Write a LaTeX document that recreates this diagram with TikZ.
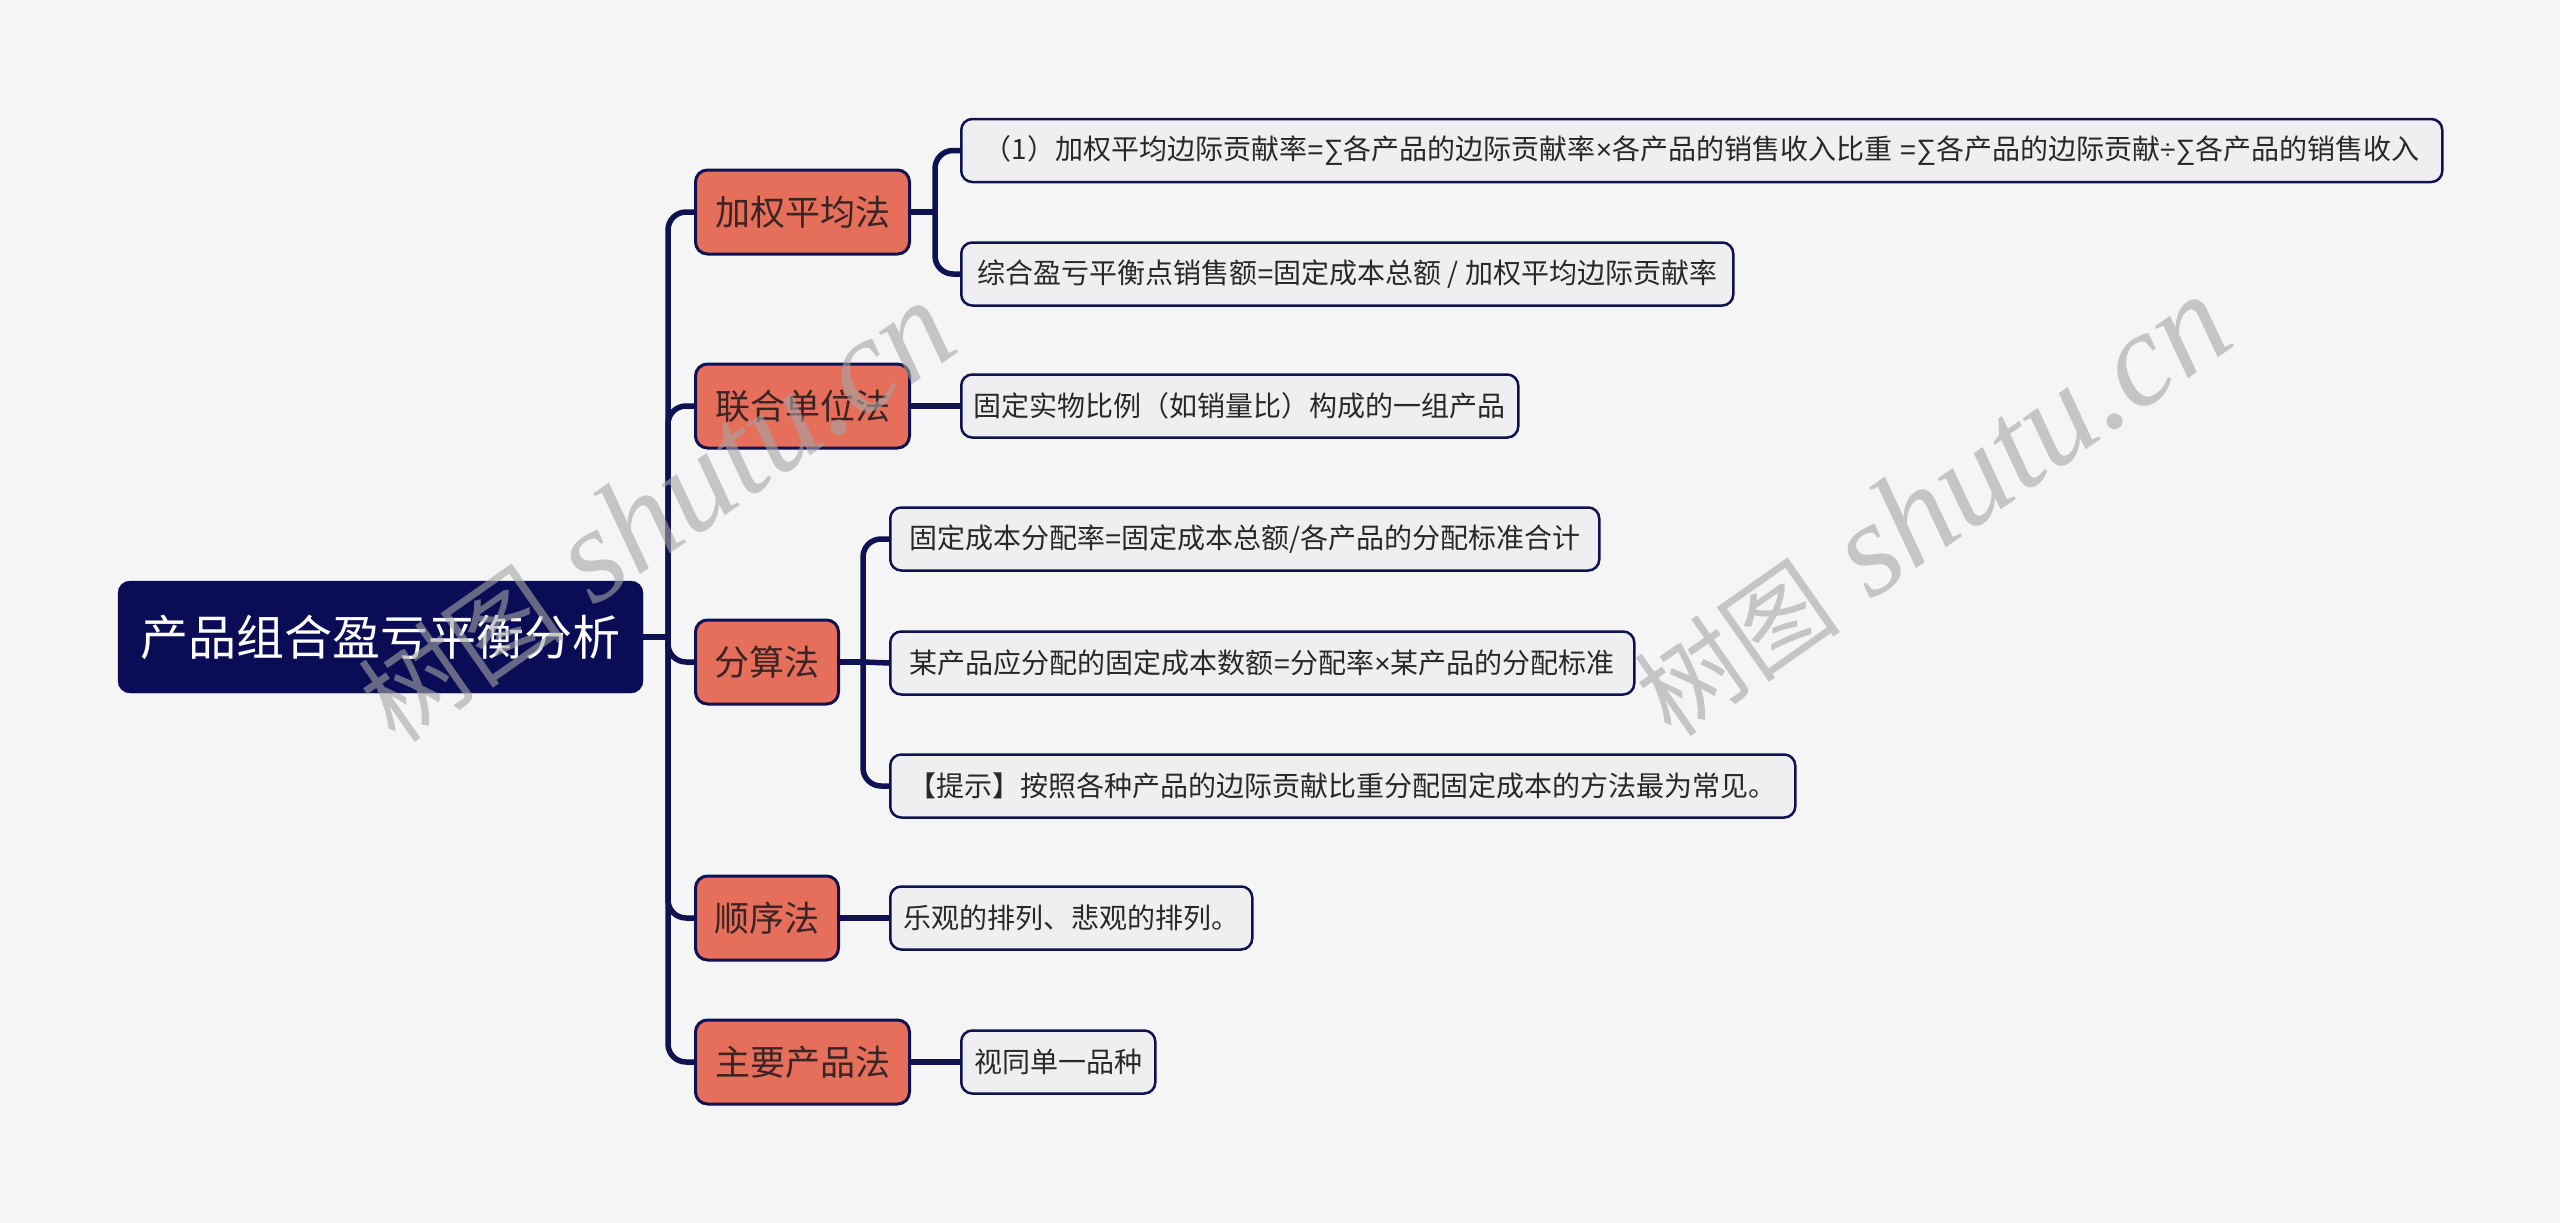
\documentclass[tikz,border=0pt]{standalone}
\usepackage{fontspec}
\setmainfont{Noto Sans CJK SC}
\newfontfamily\wmserif{Liberation Serif}
\newfontfamily\wmcjk{Noto Sans CJK SC}
\newfontfamily\symf{Liberation Sans}
\newcommand{\sy}[1]{{\symf #1}}
\definecolor{bgc}{RGB}{245,245,245}
\definecolor{rootc}{RGB}{10,13,86}
\definecolor{catc}{RGB}{229,111,91}
\definecolor{cattext}{RGB}{58,36,36}
\definecolor{leafc}{RGB}{239,239,241}
\definecolor{leaftext}{RGB}{40,40,40}
\definecolor{linec}{RGB}{14,17,82}
\definecolor{wmc}{RGB}{165,165,165}
\tikzset{
  rootbox/.style={draw=rootc, fill=rootc, rounded corners=12pt, minimum width=525pt,
    minimum height=112pt, inner sep=0pt, text=white, font=\fontsize{48}{52}\selectfont},
  catbox/.style={draw=linec, line width=3pt, fill=catc, rounded corners=12pt,
    minimum height=84pt, inner sep=0pt, text=cattext, font=\fontsize{35}{40}\selectfont, anchor=west},
  leafbox/.style={draw=linec, line width=2.5pt, fill=leafc, rounded corners=11pt,
    minimum height=63pt, inner sep=0pt, text=leaftext, font=\fontsize{28}{32}\selectfont, anchor=west},
  conn/.style={draw=linec, line width=5.5pt, rounded corners=18pt},
  wmark/.style={text=wmc, text opacity=0.6, rotate=35, anchor=base west, inner sep=0pt}
}
\begin{document}
\begin{tikzpicture}[x=1pt,y=-1pt]
\useasboundingbox[fill=bgc] (0,0) rectangle (2560,1223);

% root
\node[rootbox] (root) at (380.5,637) {产品组合盈亏平衡分析};

% categories
\node[catbox, minimum width=214pt] (c1) at (694,212) {加权平均法};
\node[catbox, minimum width=214pt] (c2) at (694,406) {联合单位法};
\node[catbox, minimum width=143pt] (c3) at (694,662) {分算法};
\node[catbox, minimum width=143pt] (c4) at (694,918) {顺序法};
\node[catbox, minimum width=214pt] (c5) at (694,1062) {主要产品法};

% leaves
\node[leafbox, minimum width=1481pt] (l1) at (960,150.5) {（1）加权平均边际贡献率\sy{=∑}各产品的边际贡献率\sy{×}各产品的销售收入比重\sy{ =∑}各产品的边际贡献\sy{÷∑}各产品的销售收入};
\node[leafbox, minimum width=772pt] (l2) at (960,274) {综合盈亏平衡点销售额\sy{=}固定成本总额 / 加权平均边际贡献率};
\node[leafbox, minimum width=557pt] (l3) at (960,406) {固定实物比例（如销量比）构成的一组产品};
\node[leafbox, minimum width=709pt] (l4) at (889,539) {固定成本分配率\sy{=}固定成本总额/各产品的分配标准合计};
\node[leafbox, minimum width=744pt] (l5) at (889,663) {某产品应分配的固定成本数额\sy{=}分配率\sy{×}某产品的分配标准};
\node[leafbox, minimum width=905pt] (l6) at (889,786) {【提示】按照各种产品的边际贡献比重分配固定成本的方法最为常见。};
\node[leafbox, minimum width=362pt] (l7) at (889,918) {乐观的排列、悲观的排列。};
\node[leafbox, minimum width=194pt] (l8) at (960,1062) {视同单一品种};

% junction coordinates
\coordinate (t0) at (668,637);
\coordinate (s1) at (935,212);
\coordinate (s3) at (863,662);

% main trunk
\draw[conn] (root.east) -- (t0);
\draw[conn] (t0) |- (c1.west);
\draw[conn] (t0) |- (c2.west);
\draw[conn] (t0) |- (c3.west);
\draw[conn] (t0) |- (c4.west);
\draw[conn] (t0) |- (c5.west);

% sub branches
\draw[conn] (c1.east) -- (s1);
\draw[conn] (s1) |- (l1.west);
\draw[conn] (s1) |- (l2.west);
\draw[conn] (c2.east) -- (l3.west);
\draw[conn] (c3.east) -- (s3);
\draw[conn] (s3) |- (l4.west);
\draw[conn] (s3) -- (l5.west);
\draw[conn] (s3) |- (l6.west);
\draw[conn] (c4.east) -- (l7.west);
\draw[conn] (c5.east) -- (l8.west);

% watermarks
\node[wmark] (wm1) at (396,746) {\fontsize{104}{104}\selectfont\wmcjk 树图\fontsize{134}{134}\selectfont\wmserif\itshape{} shutu.cn};
\node[wmark] (wm2) at (1672,740) {\fontsize{104}{104}\selectfont\wmcjk 树图\fontsize{134}{134}\selectfont\wmserif\itshape{} shutu.cn};
\end{tikzpicture}
\end{document}
